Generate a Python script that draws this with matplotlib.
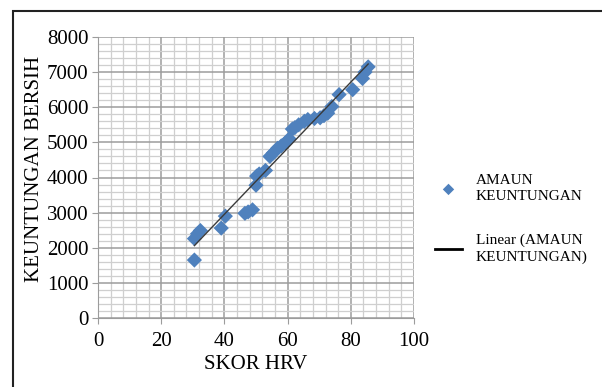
import numpy as np
import matplotlib.pyplot as plt
from matplotlib.patches import Rectangle
from matplotlib.ticker import MultipleLocator

# Data
skor_hrv = [30.5, 30.5, 31.5, 32.4, 39.0, 40.3, 46.5, 47.5, 48.9, 50.0, 50.2, 51.0,
            53.0, 54.4, 55.5, 56.8, 58.0, 59.3, 60.5, 61.5, 62.3, 63.5, 65.3, 66.4,
            68.5, 70.3, 71.5, 72.7, 74.0, 76.3, 80.6, 83.7, 84.5, 85.5]
keuntungan = [1650, 2260, 2400, 2490, 2560, 2900, 2980, 3020, 3080, 3780, 4040, 4100,
              4200, 4600, 4700, 4830, 4900, 4980, 5100, 5380, 5420, 5500, 5600, 5650,
              5680, 5700, 5760, 5830, 6020, 6360, 6500, 6820, 7000, 7150]

x_label = 'SKOR HRV'
y_label = 'KEUNTUNGAN BERSIH'
series_label = 'AMAUN\nKEUNTUNGAN'
trend_label = 'Linear (AMAUN\nKEUNTUNGAN)'

plt.rcParams['font.family'] = ['Liberation Serif', 'DejaVu Serif']

fig = plt.figure(figsize=(6.02, 3.87), dpi=100)
ax = fig.add_axes([98/602, 1 - 318/387, 316/602, 281/387])

ax.scatter(skor_hrv, keuntungan, marker='D', s=60, color='#4f81bd', zorder=3,
           label=series_label, edgecolors='none')

# Linear trendline
coef = np.polyfit(skor_hrv, keuntungan, 1)
xs = np.array([min(skor_hrv), max(skor_hrv)])
ax.plot(xs, np.polyval(coef, xs), color='#3a3a3a', lw=1.0, zorder=4, label=trend_label)

ax.set_xlim(0, 100)
ax.set_ylim(0, 8000)
ax.xaxis.set_major_locator(MultipleLocator(20))
ax.xaxis.set_minor_locator(MultipleLocator(4))
ax.yaxis.set_major_locator(MultipleLocator(1000))
ax.yaxis.set_minor_locator(MultipleLocator(200))
ax.grid(which='major', color='#9c9c9c', lw=1.1)
ax.grid(which='minor', color='#cfcfcf', lw=0.9)
ax.set_axisbelow(True)

for s in ['top', 'right']:
    ax.spines[s].set_visible(False)
for s in ['left', 'bottom']:
    ax.spines[s].set_color('#9c9c9c')

ax.tick_params(which='major', length=4, color='#9c9c9c', labelsize=15)
ax.tick_params(axis='x', pad=6)
ax.tick_params(axis='y', pad=3)
ax.tick_params(which='minor', length=0)
ax.set_xlabel(x_label, fontsize=15, labelpad=3)
ax.set_ylabel(y_label, fontsize=15)
ax.yaxis.set_label_coords(-0.17, 0.53)

leg = fig.legend(loc='center left', bbox_to_anchor=(421/602, 1 - 219/387), frameon=False,
                 fontsize=11, handlelength=1.8, handletextpad=0.9, labelspacing=2.0,
                 markerscale=0.75)
for t in leg.get_texts():
    t.set_linespacing(1.35)
for line in leg.get_lines():
    line.set_linewidth(2)
    line.set_color('black')

fig.add_artist(Rectangle((13/602, -0.2), 1.0, 1 - 11/387 + 0.2, transform=fig.transFigure,
                         fill=False, lw=1.5, ec='#222222'))

fig.savefig('out.png', dpi=100)
